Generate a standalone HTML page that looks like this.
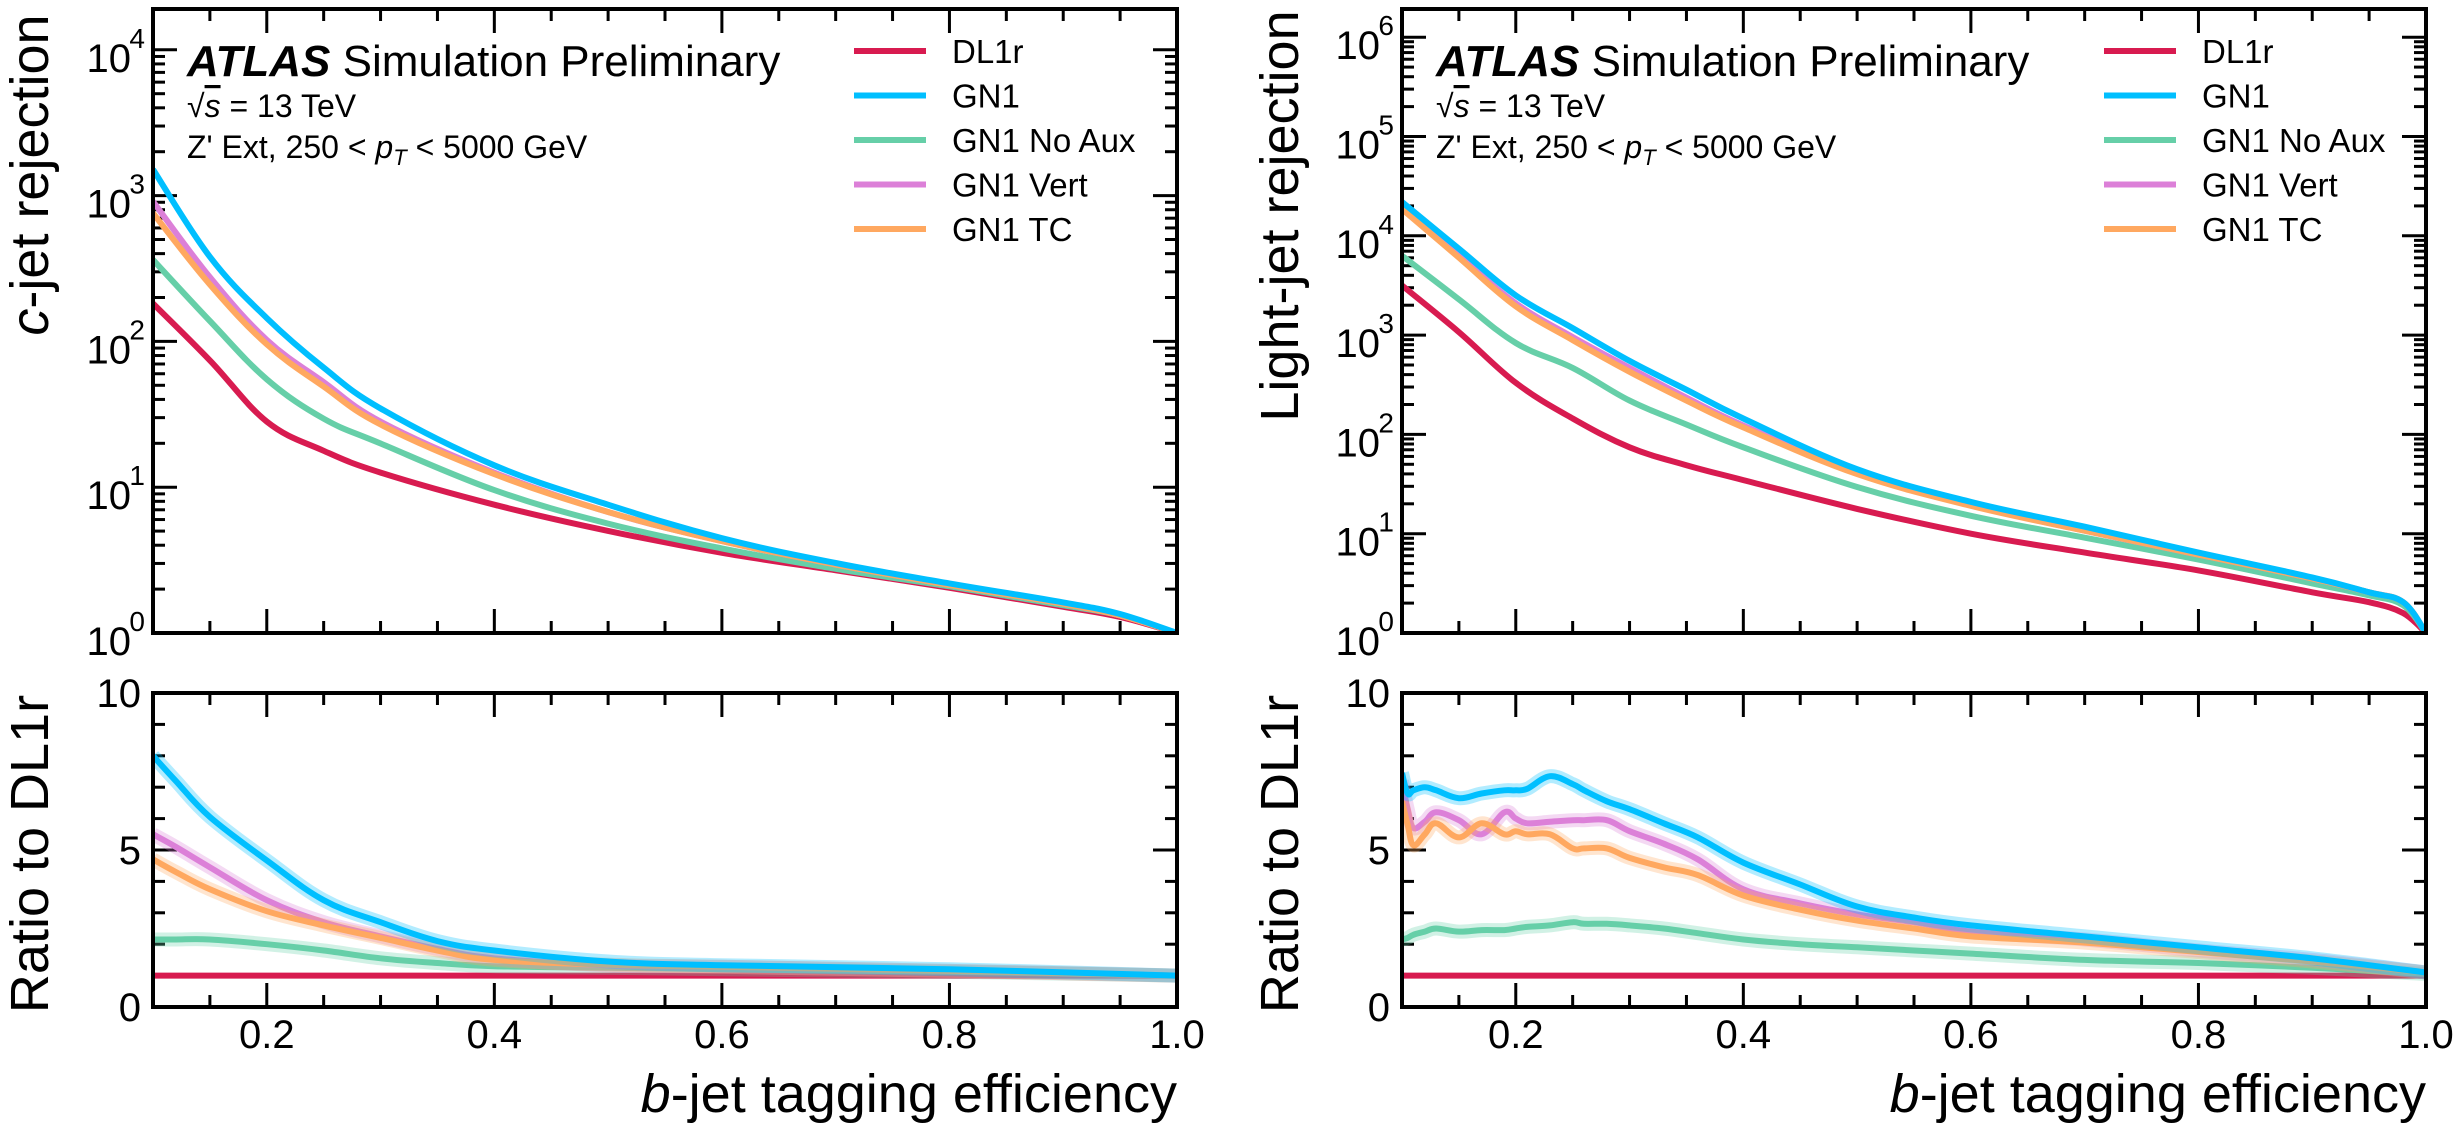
<!DOCTYPE html>
<html><head><meta charset="utf-8">
<style>
html,body{margin:0;padding:0;background:#fff;}
svg{display:block;font-family:"Liberation Sans",sans-serif;}
</style></head>
<body>
<svg id="fig" width="2457" height="1133" viewBox="0 0 2457 1133" xmlns="http://www.w3.org/2000/svg"></svg>
<script>
// ---------- data ----------
const seriesNames = ["DL1r","GN1","GN1 No Aux","GN1 Vert","GN1 TC"];
const seriesColors = ["#d81b50","#00bfff","#66cfa8","#dc80d8","#ffa860"];
// left: c-jet rejection (log10 values) vs b-eff
const cEff = [0.1,0.15,0.2,0.25,0.3,0.4,0.5,0.6,0.7,0.8,0.9,0.95,1.0];
const cDL1r = [2.26,1.87,1.45,1.25,1.10,0.88,0.70,0.55,0.43,0.31,0.18,0.11,0];
const cGN1  = [3.18,2.58,2.16,1.82,1.54,1.15,0.88,0.65,0.48,0.34,0.21,0.13,0];
const cNoAux= [2.56,2.14,1.74,1.47,1.30,0.98,0.75,0.58,0.44,0.32,0.19,0.12,0];
const cVert = [2.96,2.44,2.01,1.72,1.45,1.10,0.83,0.63,0.47,0.33,0.20,0.12,0];
const cTC   = [2.88,2.39,1.98,1.69,1.43,1.09,0.83,0.63,0.47,0.33,0.20,0.12,0];
// left ratio
const crEff = [0.1,0.12,0.15,0.2,0.25,0.3,0.35,0.4,0.5,0.6,0.8,1.0];
const crDL1r = [1,1,1,1,1,1,1,1,1,1,1,1];
const crGN1  = [8.0,7.2,6.05,4.67,3.4,2.7,2.1,1.8,1.45,1.33,1.2,1.0];
const crNoAux= [2.15,2.15,2.15,2.0,1.8,1.55,1.4,1.3,1.25,1.2,1.12,1.0];
const crVert = [5.5,5.1,4.45,3.4,2.7,2.25,1.85,1.55,1.33,1.28,1.15,1.0];
const crTC   = [4.7,4.3,3.75,3.05,2.6,2.2,1.8,1.5,1.35,1.28,1.15,1.0];
// right: light-jet rejection (log10 values)
const lEff = [0.1,0.15,0.2,0.25,0.3,0.35,0.4,0.5,0.6,0.7,0.8,0.9,0.95,0.98,1.0];
const lDL1r = [3.5,3.03,2.52,2.16,1.87,1.69,1.54,1.25,1.0,0.81,0.63,0.41,0.31,0.2,0];
const lGN1  = [4.34,3.87,3.40,3.07,2.74,2.45,2.16,1.65,1.32,1.07,0.81,0.56,0.41,0.31,0];
const lNoAux= [3.8,3.36,2.92,2.67,2.34,2.10,1.87,1.47,1.18,0.96,0.74,0.5,0.38,0.28,0];
const lVert = [4.3,3.8,3.32,2.98,2.67,2.37,2.09,1.61,1.29,1.03,0.79,0.55,0.41,0.31,0];
const lTC   = [4.27,3.78,3.29,2.95,2.63,2.34,2.07,1.60,1.28,1.03,0.79,0.55,0.41,0.31,0];
// right ratio
const lrEff = [0.1,0.105,0.11,0.12,0.13,0.15,0.17,0.19,0.2,0.21,0.23,0.25,0.26,0.28,0.3,0.33,0.36,0.4,0.45,0.5,0.55,0.6,0.7,0.8,0.9,1.0];
const lrDL1r = lrEff.map(()=>1);
const lrGN1  = [7.45,6.8,6.9,7.0,6.9,6.65,6.8,6.9,6.9,6.95,7.35,7.1,6.9,6.55,6.3,5.85,5.4,4.6,3.9,3.2,2.85,2.6,2.25,1.9,1.55,1.1];
const lrNoAux= [2.15,2.2,2.3,2.4,2.5,2.4,2.45,2.45,2.5,2.55,2.6,2.7,2.65,2.65,2.6,2.5,2.35,2.15,2.0,1.9,1.8,1.7,1.5,1.4,1.25,1.05];
const lrVert = [7.2,6.3,5.7,5.9,6.2,5.95,5.5,6.2,6.0,5.85,5.9,5.95,5.95,5.95,5.6,5.2,4.7,3.75,3.3,2.95,2.7,2.4,2.15,1.8,1.5,1.1];
const lrTC   = [6.55,5.8,5.15,5.5,5.85,5.4,5.85,5.5,5.6,5.5,5.5,5.05,5.05,5.05,4.75,4.45,4.2,3.55,3.1,2.75,2.5,2.25,2.05,1.75,1.45,1.1];

// ---------- drawing ----------
const NS="http://www.w3.org/2000/svg";
const svg=document.getElementById('fig');
function el(tag,attrs,parent){const e=document.createElementNS(NS,tag);for(const k in attrs)e.setAttribute(k,attrs[k]);(parent||svg).appendChild(e);return e;}
const XMIN=0.1,XMAX=1.0;
function makeX(x0,x1){return v=>x0+(v-XMIN)/(XMAX-XMIN)*(x1-x0);}

function drawPanel(opt){
  const {x0,x1,y0,y1,X,Y,name}=opt;
  const g=el('g',{});
  
  
  for(let i=0;i<=18;i++){
    const v=0.1+i*0.05; const px=X(v);
    const major=[0.2,0.4,0.6,0.8,1.0].some(m=>Math.abs(v-m)<1e-6);
    const L=major?24:12;
    el('line',{x1:px,x2:px,y1:y1,y2:y1-L,stroke:'#000','stroke-width':3},g);
    el('line',{x1:px,x2:px,y1:y0,y2:y0+L,stroke:'#000','stroke-width':3},g);
  }
  opt.yticks.forEach(t=>{
    const py=Y(t.v);const L=t.major?24:12;
    el('line',{x1:x0,x2:x0+L,y1:py,y2:py,stroke:'#000','stroke-width':3},g);
    el('line',{x1:x1,x2:x1-L,y1:py,y2:py,stroke:'#000','stroke-width':3},g);
  });
  return g;
}

function smoothPath(P){
  let d='M'+P[0][0].toFixed(1)+','+P[0][1].toFixed(1);
  for(let i=0;i<P.length-1;i++){
    const p0=P[Math.max(0,i-1)],p1=P[i],p2=P[i+1],p3=P[Math.min(P.length-1,i+2)];
    const t=0.18;
    const c1=[p1[0]+(p2[0]-p0[0])*t,p1[1]+(p2[1]-p0[1])*t];
    const c2=[p2[0]-(p3[0]-p1[0])*t,p2[1]-(p3[1]-p1[1])*t];
    d+=' C'+c1[0].toFixed(1)+','+c1[1].toFixed(1)+' '+c2[0].toFixed(1)+','+c2[1].toFixed(1)+' '+p2[0].toFixed(1)+','+p2[1].toFixed(1);
  }
  return d;
}

function drawSeries(xs,ys,X,Y,color,name,clip,band){
  const P=xs.map((x,i)=>[X(x),Y(ys[i])]);
  const d=smoothPath(P);
  if(band){
    const b=el('path',{d:d,fill:'none',stroke:color,'stroke-width':band,'stroke-opacity':0.3,'stroke-linejoin':'round','clip-path':clip});
    
    
  }
  const p=el('path',{d:d,fill:'none',stroke:color,'stroke-width':6,'stroke-linejoin':'round','clip-path':clip});
  
  
}

function text(str,attrs,name,parent){const t=el('text',attrs,parent);t.textContent=str;return t;}
function slug(s){return s.toLowerCase().replace(/[^a-z0-9]+/g,'-');}

function buildSide(o){
  const X=makeX(o.x0,o.x1);
  const TOP0=9,TOP1=633,R0=693,R1=1007;
  const decades=o.decades;
  const Yt=v=>TOP1-v*o.decPx;
  const Yr=v=>R1-v*(R1-R0)/10;
  const defs=el('defs',{});
  const c1=el('clipPath',{id:o.id+'c1'},defs);el('rect',{x:o.x0,y:TOP0,width:o.x1-o.x0,height:TOP1-TOP0},c1);
  const c2=el('clipPath',{id:o.id+'c2'},defs);el('rect',{x:o.x0,y:R0,width:o.x1-o.x0,height:R1-R0},c2);
  const yt=[];
  for(let d=0;d<=decades;d++){yt.push({v:d,major:true});for(let m=2;m<=9;m++){const v=d+Math.log10(m);if(Yt(v)>TOP0)yt.push({v:v,major:false});}}
  drawPanel({x0:o.x0,x1:o.x1,y0:TOP0,y1:TOP1,X:X,Y:Yt,yticks:yt,name:o.id+'-main-ticks'});
  const yr=[];for(let i=0;i<=10;i++)yr.push({v:i,major:i%5===0});
  drawPanel({x0:o.x0,x1:o.x1,y0:R0,y1:R1,X:X,Y:Yr,yticks:yr,name:o.id+'-ratio-ticks'});
  const main=o.main,ratio=o.ratio;
  [0,2,3,4,1].forEach(i=>{
    drawSeries(o.mainX,main[i],X,Yt,seriesColors[i],o.id+'-'+slug(seriesNames[i])+'-line','url(#'+o.id+'c1)',0);
  });
  [0,2,3,4,1].forEach(i=>{
    drawSeries(o.ratioX,ratio[i],X,Yr,seriesColors[i],o.id+'-'+slug(seriesNames[i])+'-ratio-line','url(#'+o.id+'c2)',i===0?0:14);
  });
  const f1=el('rect',{x:o.x0,y:TOP0,width:o.x1-o.x0,height:TOP1-TOP0,fill:'none',stroke:'#000','stroke-width':4});
  
  const f2=el('rect',{x:o.x0,y:R0,width:o.x1-o.x0,height:R1-R0,fill:'none',stroke:'#000','stroke-width':4});
  
  for(let d=0;d<=decades;d++){
    const py=Yt(d);
    text('10',{x:o.x0-22,y:py+22,'font-size':40,'text-anchor':'end'},o.id+'-ytick-label');
    text(String(d),{x:o.x0-8,y:py-2,'font-size':28,'text-anchor':'end'},o.id+'-ytick-exponent');
  }
  [0,5,10].forEach(v=>{text(String(v),{x:o.x0-12,y:Yr(v)+14,'font-size':40,'text-anchor':'end'},o.id+'-ratio-ytick-label');});
  ['0.2','0.4','0.6','0.8','1.0'].forEach(s=>{text(s,{x:X(parseFloat(s)),y:1048,'font-size':40,'text-anchor':'middle'},o.id+'-xtick-label');});
  const xt=el('text',{x:o.x1,y:1112,'font-size':54,'text-anchor':'end'});
  
  const ti=el('tspan',{'font-style':'italic'},xt);ti.textContent='b';
  const tr=el('tspan',{},xt);tr.textContent='-jet tagging efficiency';
  const yt1=el('text',{x:0,y:0,'font-size':54,'text-anchor':'middle',transform:'translate('+(o.titleX)+','+o.titleY+') rotate(-90)'});
  
  if(o.italicC){const a=el('tspan',{'font-style':'italic'},yt1);a.textContent='c';const b=el('tspan',{},yt1);b.textContent='-jet rejection';}
  else yt1.textContent=o.yTitle;
  text('Ratio to DL1r',{x:0,y:0,'font-size':54,'text-anchor':'middle',transform:'translate('+o.titleX+',854) rotate(-90)'},o.id+'-ratio-y-axis-title');
  const lab=el('text',{x:o.lx,y:76,'font-size':44});
  
  const at=el('tspan',{'font-weight':'bold','font-style':'italic'},lab);at.textContent='ATLAS';
  const sp=el('tspan',{},lab);sp.textContent=' Simulation Preliminary';
  const e1=el('text',{x:o.lx,y:117,'font-size':32});
  
  const e1a=el('tspan',{},e1);e1a.textContent='\u221A';
  const e1b=el('tspan',{'font-style':'italic','text-decoration':'overline'},e1);e1b.textContent='s';
  const e1c=el('tspan',{},e1);e1c.textContent=' = 13 TeV';
  const e2=el('text',{x:o.lx,y:158,'font-size':32});
  
  const a1=el('tspan',{},e2);a1.textContent="Z' Ext, 250 < ";
  const a2=el('tspan',{'font-style':'italic'},e2);a2.textContent='p';
  const a3=el('tspan',{'font-style':'italic','font-size':22,dy:7},e2);a3.textContent='T';
  const a4=el('tspan',{dy:-7},e2);a4.textContent=' < 5000 GeV';
  seriesNames.forEach((n,i)=>{
    const y=51+i*44.5;
    const ln=el('line',{x1:o.legX,x2:o.legX+72,y1:y,y2:y,stroke:seriesColors[i],'stroke-width':6});
    
    text(n,{x:o.legX+98,y:y+12,'font-size':33},o.id+'-legend-entry-'+slug(n));
  });
}

buildSide({id:'cjet',x0:153,x1:1177,decades:4,decPx:145.8,mainX:cEff,main:[cDL1r,cGN1,cNoAux,cVert,cTC],
  ratioX:crEff,ratio:[crDL1r,crGN1,crNoAux,crVert,crTC],titleX:48,titleY:175,italicC:true,lx:187,legX:854});
buildSide({id:'light',x0:1402,x1:2426,decades:6,decPx:99.3,mainX:lEff,main:[lDL1r,lGN1,lNoAux,lVert,lTC],
  ratioX:lrEff,ratio:[lrDL1r,lrGN1,lrNoAux,lrVert,lrTC],titleX:1298,titleY:216,yTitle:'Light-jet rejection',lx:1436,legX:2104});
</script>
</body></html>
